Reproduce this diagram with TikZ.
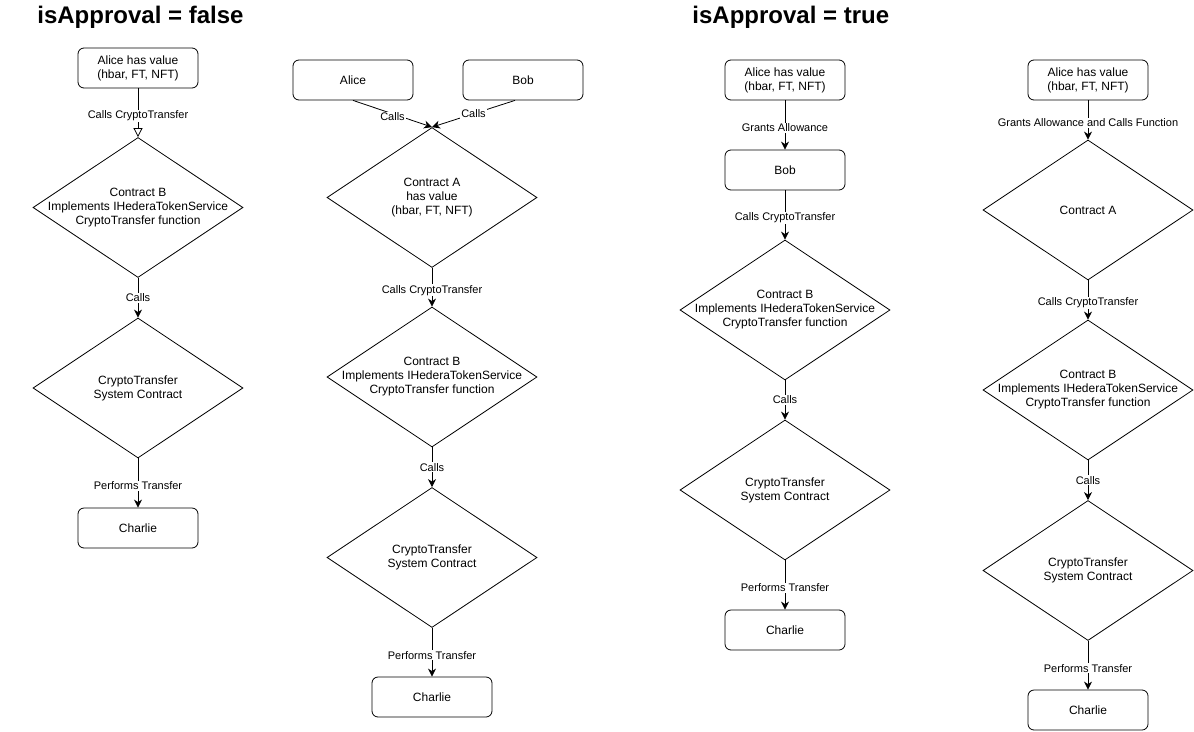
\documentclass[tikz,border=0pt]{standalone}
\usepackage{fontspec}
\setmainfont{Liberation Sans}
\usetikzlibrary{shapes.geometric,arrows.meta}

\begin{document}
\begin{tikzpicture}[x=1pt,y=-1pt,line width=0.8pt,
 box/.style={draw, rounded corners=6pt, minimum width=120pt, minimum height=40pt, align=center, font=\fontsize{12}{14}\selectfont},
 dia/.style={draw, diamond, minimum width=210pt, minimum height=140pt, inner sep=0pt},
 txt/.style={align=center, font=\fontsize{12}{14}\selectfont},
 lbl/.style={fill=white, inner sep=1pt, yshift=-3pt, font=\fontsize{11}{13}\selectfont},
 arr/.style={-{Stealth[length=8pt,width=8pt,inset=2.5pt]}},
 openarr/.style={-{Triangle[open,length=9pt,width=9pt]}},
 title/.style={anchor=base west, inner sep=0pt, font=\fontsize{24}{28}\selectfont\bfseries}]
\useasboundingbox (0,0) rectangle (1194,731);
\node[title] (tf) at (37,23) {isApproval = false};
\node[title] (tt) at (692,23) {isApproval = true};
 \node[box] (a1) at (138,68) {Alice has value\\(hbar, FT, NFT)};
 \node[dia, label={[txt]center:{Contract B\\Implements IHederaTokenService\\CryptoTransfer function}}] (cb1) at (138,207.5) {};
 \node[dia, label={[txt]center:{CryptoTransfer\\System Contract}}] (sc1) at (138,388) {};
 \node[box] (ch1) at (138,528) {Charlie};
 \draw[openarr] (a1) -- node[lbl] (l1a) {Calls CryptoTransfer} (cb1);
 \draw[arr] (cb1) -- node[lbl, yshift=3pt] (l1b) {Calls} (sc1);
 \draw[arr] (sc1) -- node[lbl] (l1c) {Performs Transfer} (ch1);
 \node[box] (al2) at (353,80) {Alice};
 \node[box] (bob2) at (523,80) {Bob};
 \node[dia, label={[txt]center:{Contract A\\has value\\(hbar, FT, NFT)}}] (ca2) at (432,197.5) {};
 \node[dia, label={[txt]center:{Contract B\\Implements IHederaTokenService\\CryptoTransfer function}}] (cb2) at (432,377) {};
 \node[dia, label={[txt]center:{CryptoTransfer\\System Contract}}] (sc2) at (432,557.5) {};
 \node[box] (ch2) at (432,697) {Charlie};
 \draw[arr] (al2.south) -- node[lbl] (l2a) {Calls} (ca2.north);
 \draw[arr] ([xshift=-8pt]bob2.south) -- node[lbl, yshift=3pt] (l2b) {Calls} (ca2.north);
 \draw[arr] (ca2) -- node[lbl] (l2c) {Calls CryptoTransfer} (cb2);
 \draw[arr] (cb2) -- node[lbl, yshift=3pt] (l2d) {Calls} (sc2);
 \draw[arr] (sc2) -- node[lbl] (l2e) {Performs Transfer} (ch2);
 \node[box] (a3) at (785,80) {Alice has value\\(hbar, FT, NFT)};
 \node[box] (bob3) at (785,170) {Bob};
 \node[dia, label={[txt]center:{Contract B\\Implements IHederaTokenService\\CryptoTransfer function}}] (cb3) at (785,310) {};
 \node[dia, label={[txt]center:{CryptoTransfer\\System Contract}}] (sc3) at (785,490) {};
 \node[box] (ch3) at (785,630) {Charlie};
 \draw[arr] (a3) -- node[lbl] (l3a) {Grants Allowance} (bob3);
 \draw[arr] (bob3) -- node[lbl] (l3b) {Calls CryptoTransfer} (cb3);
 \draw[arr] (cb3) -- node[lbl, yshift=3pt] (l3c) {Calls} (sc3);
 \draw[arr] (sc3) -- node[lbl] (l3d) {Performs Transfer} (ch3);
 \node[box] (a4) at (1088,80) {Alice has value\\(hbar, FT, NFT)};
 \node[dia, label={[txt]center:{Contract A}}] (ca4) at (1088,210) {};
 \node[dia, label={[txt]center:{Contract B\\Implements IHederaTokenService\\CryptoTransfer function}}] (cb4) at (1088,390) {};
 \node[dia, label={[txt]center:{CryptoTransfer\\System Contract}}] (sc4) at (1088,570.5) {};
 \node[box] (ch4) at (1088,710) {Charlie};
 \draw[arr] (a4) -- node[lbl] (l4a) {Grants Allowance and Calls Function} (ca4);
 \draw[arr] (ca4) -- node[lbl] (l4b) {Calls CryptoTransfer} (cb4);
 \draw[arr] (cb4) -- node[lbl, yshift=3pt] (l4c) {Calls} (sc4);
 \draw[arr] (sc4) -- node[lbl] (l4d) {Performs Transfer} (ch4);
\end{tikzpicture}
\end{document}
